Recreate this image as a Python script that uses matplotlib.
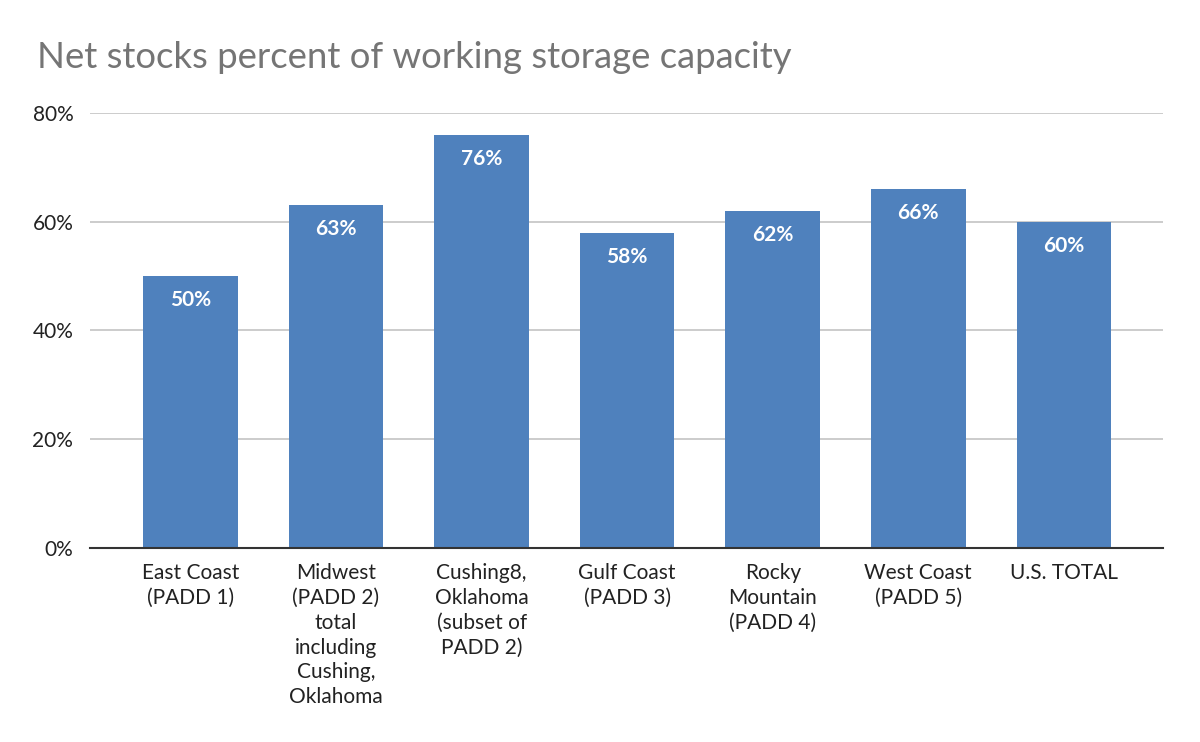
import matplotlib
matplotlib.use("Agg")
import matplotlib.pyplot as plt
from matplotlib.ticker import FuncFormatter

categories = [
    "East Coast\n(PADD 1)",
    "Midwest\n(PADD 2)\ntotal\nincluding\nCushing,\nOklahoma",
    "Cushing8,\nOklahoma\n(subset of\nPADD 2)",
    "Gulf Coast\n(PADD 3)",
    "Rocky\nMountain\n(PADD 4)",
    "West Coast\n(PADD 5)",
    "U.S. TOTAL",
]
values = [50, 63, 76, 58, 62, 66, 60]
y_ticks = [0, 20, 40, 60, 80]

plt.rcParams["font.family"] = ["Lato", "DejaVu Sans"]

fig = plt.figure(figsize=(12, 7.42), dpi=100)
ax = fig.add_axes([0.075, 0.2615, 0.894, 0.5862])

x = list(range(len(values)))
bars = ax.bar(x, values, width=0.65, color="#4f81bd", zorder=3)

for b, v in zip(bars, values):
    ax.annotate(f"{v}%", (b.get_x() + b.get_width() / 2, v),
                xytext=(0, -10), textcoords="offset points",
                ha="center", va="top", color="white",
                fontsize=15, fontweight="bold", zorder=4)

ax.set_xlim(-0.69, 6.68)
ax.set_ylim(0, 80)
ax.set_yticks(y_ticks)
ax.yaxis.set_major_formatter(FuncFormatter(lambda v, _: f"{v:.0f}%"))
ax.set_xticks(x)
ax.set_xticklabels(categories, fontsize=15, color="#222222", linespacing=1.3)
ax.tick_params(axis="y", length=0, pad=12, labelsize=15, labelcolor="#222222")
ax.tick_params(axis="x", length=0, pad=11)

ax.grid(axis="y", color="#c8c8c8", linewidth=1.3, zorder=0)
for side in ["top", "right", "left"]:
    ax.spines[side].set_visible(False)
ax.spines["bottom"].set_color("#333333")
ax.spines["bottom"].set_linewidth(1.5)
ax.spines["bottom"].set_zorder(5)

fig.text(0.031, 0.922, "Net stocks percent of working storage capacity",
         fontsize=26.3, color="#757575", ha="left", va="center")

fig.savefig("out.png", dpi=100)
